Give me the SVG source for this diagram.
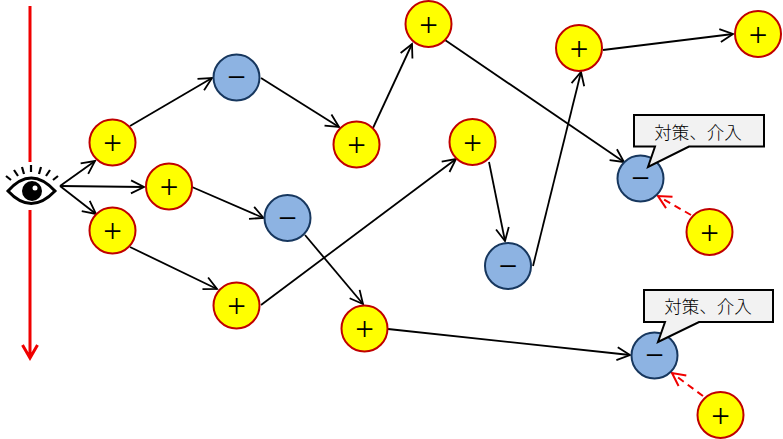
<svg xmlns="http://www.w3.org/2000/svg" width="783" height="439" viewBox="0 0 783 439">
<defs>
<marker id="a" markerUnits="userSpaceOnUse" markerWidth="18" markerHeight="18" refX="14" refY="8" orient="auto"><path d="M1 1.500L14 8L1 14.500" fill="none" stroke="#000" stroke-width="1.8"/></marker>
<marker id="r" markerUnits="userSpaceOnUse" markerWidth="18" markerHeight="18" refX="14" refY="8" orient="auto"><path d="M1 1.500L14 8L1 14.500" fill="none" stroke="#f00000" stroke-width="2"/></marker>
</defs>
<style>
.p circle{fill:#ffff00;stroke:#c00000;stroke-width:2}
.m circle{fill:#8db3e2;stroke:#17375e;stroke-width:2}
text{font-family:"Liberation Serif",serif;text-anchor:middle;fill:#000}
.s{font-size:33px}
.c{font-size:17.5px;font-family:"Noto Sans CJK JP","Liberation Sans",sans-serif;font-weight:300}
.b{fill:#f2f2f2;stroke:#000;stroke-width:2}
#connectors line{stroke:#000;stroke-width:1.8;marker-end:url(#a)}
#connectors line.d{stroke:#f00000;stroke-width:2;stroke-dasharray:7 5;marker-end:url(#r)}
</style>
<rect width="783" height="439" fill="#fff"/>
<path d="M30 6V162M30 210V357M22.500 345L30 358L37.500 345" fill="none" stroke="#f00000" stroke-width="3"/>
<g id="connectors">
<line x1="60" y1="186" x2="95" y2="161"/><line x1="60" y1="186" x2="144" y2="187"/><line x1="60" y1="186" x2="96" y2="214"/>
<line x1="130" y1="126" x2="212" y2="78"/><line x1="261" y1="78" x2="339" y2="127"/><line x1="373" y1="128" x2="412" y2="44"/>
<line x1="445" y1="40" x2="624" y2="162"/><line x1="192" y1="187" x2="263.500" y2="218"/><line x1="305" y1="235" x2="363" y2="304"/>
<line x1="130" y1="247" x2="217" y2="289"/><line x1="261" y1="305" x2="456" y2="159"/><line x1="489" y1="162" x2="505" y2="241"/>
<line x1="533" y1="266" x2="581" y2="72"/><line x1="603" y1="50" x2="733" y2="34"/><line x1="388" y1="329" x2="630" y2="355"/>
<line class="d" x1="691" y1="215" x2="658" y2="196"/><line class="d" x1="703" y1="396" x2="672" y2="373"/>
</g>
<g id="eye">
<path d="M8 191Q31 165 55 191Q31 216 8 191Z" fill="#fff" stroke="#000" stroke-width="3"/>
<circle cx="32" cy="191" r="10" fill="#000"/><circle cx="35" cy="188" r="2.500" fill="#fff"/>
<path d="M6 176L11 180M14 170L18 176M22 167L24 174M31 165V172M41 167L39 174M50 170L46 176M58 176L53 180" fill="none" stroke="#000" stroke-width="2.200"/>
</g>
<g id="n1" class="p"><circle cx="112.500" cy="142.500" r="23"/><text class="s" x="112.500" y="154">+</text></g>
<g id="n2" class="p"><circle cx="169" cy="186.500" r="23"/><text class="s" x="169" y="198">+</text></g>
<g id="n3" class="p"><circle cx="112.500" cy="230.500" r="23"/><text class="s" x="112.500" y="242">+</text></g>
<g id="n4" class="m"><circle cx="236.500" cy="77.500" r="23"/><text class="s" x="236.500" y="88">−</text></g>
<g id="n5" class="m"><circle cx="287.500" cy="218" r="23"/><text class="s" x="287.500" y="228.500">−</text></g>
<g id="n6" class="p"><circle cx="356.500" cy="144.500" r="23"/><text class="s" x="356.500" y="156">+</text></g>
<g id="n7" class="p"><circle cx="428.500" cy="24" r="23"/><text class="s" x="428.500" y="35.500">+</text></g>
<g id="n8" class="p"><circle cx="472.500" cy="142" r="23"/><text class="s" x="472.500" y="153.500">+</text></g>
<g id="n9" class="p"><circle cx="236.500" cy="305.500" r="23"/><text class="s" x="236.500" y="317">+</text></g>
<g id="n10" class="p"><circle cx="364.500" cy="328.500" r="23"/><text class="s" x="364.500" y="340">+</text></g>
<g id="n11" class="m"><circle cx="508" cy="266" r="23"/><text class="s" x="508" y="276.500">−</text></g>
<g id="n12" class="p"><circle cx="579" cy="48" r="23"/><text class="s" x="579" y="59.500">+</text></g>
<g id="n13" class="p"><circle cx="758" cy="34" r="23"/><text class="s" x="758" y="45.500">+</text></g>
<g id="n14" class="m"><circle cx="640.500" cy="178.500" r="23"/><text class="s" x="640.500" y="189">−</text></g>
<g id="n15" class="p"><circle cx="709.500" cy="232" r="23"/><text class="s" x="709.500" y="243.500">+</text></g>
<g id="n16" class="m"><circle cx="654.500" cy="355.500" r="23"/><text class="s" x="654.500" y="366">−</text></g>
<g id="n17" class="p"><circle cx="720.500" cy="415" r="23"/><text class="s" x="720.500" y="426.500">+</text></g>
<g id="c1"><path class="b" d="M634 115H764V146.500H689L648 167L655 146.500H634Z"/><text class="c" x="698" y="139">対策、介入</text></g>
<g id="c2"><path class="b" d="M644 290H773V322H699L658 342L665 322H644Z"/><text class="c" x="708" y="313">対策、介入</text></g>
</svg>
